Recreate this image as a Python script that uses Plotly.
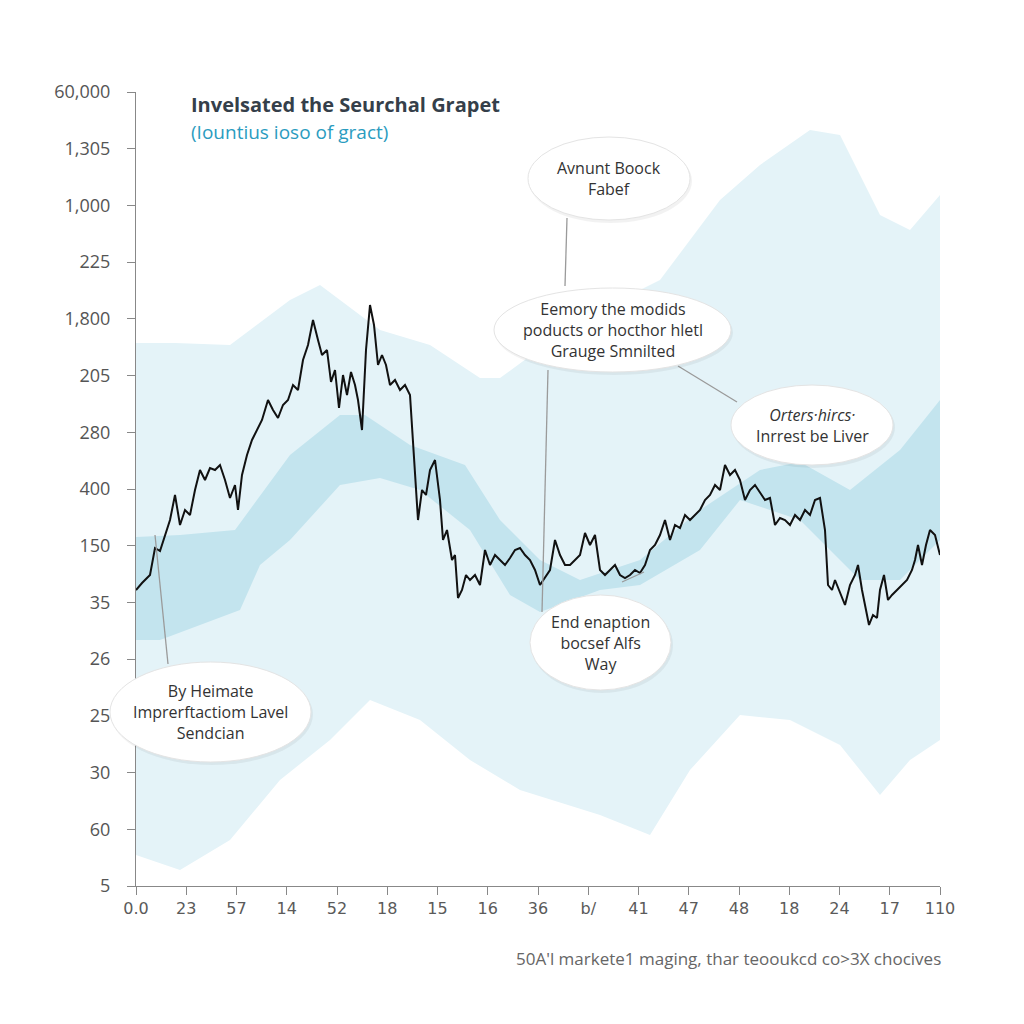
import plotly.graph_objects as go

# ---- data (x in "steps", y in "value units") ----
line_x = [0,6,14,19,24,29,34,39,44,49,
          54,59,64,69,74,79,84,89,94,99,
          102,106,111,116,122,126,132,137,142,147,
          152,157,162,167,172,177,182,186,191,195,
          199,203,207,211,215,219,222,226,230,234,
          238,242,246,250,254,259,264,269,274,279,
          282,286,290,294,299,304,307,311,316,319,
          322,326,330,334,339,344,349,354,359,364,
          369,374,379,384,389,394,399,404,409,414,
          419,424,429,434,439,444,449,454,459,464,
          469,474,479,484,489,494,499,504,509,514,
          519,524,529,534,539,544,549,554,559,564,
          569,574,579,584,589,594,599,604,609,614,
          619,624,629,634,639,644,649,654,659,664,
          669,674,679,684,689,692,696,699,704,709,
          714,719,722,726,730,733,737,741,744,748,
          752,756,761,766,771,776,779,782,786,790,
          794,799,804]
line_y = [296,303,311,338,335,351,366,391,361,376,
          371,396,416,406,418,416,421,406,388,401,
          376,411,431,446,458,466,486,476,468,481,
          486,501,496,526,541,566,546,531,536,504,
          516,478,511,491,514,501,486,456,536,581,
          561,521,531,521,501,506,496,501,491,416,
          366,396,391,416,426,386,346,356,326,331,
          288,296,311,306,311,301,336,321,331,326,
          321,328,336,338,331,326,316,301,308,316,
          346,331,321,321,326,331,353,341,351,316,
          311,316,321,311,308,311,316,313,321,336,
          341,351,366,346,361,358,371,366,371,376,
          386,391,401,396,421,411,416,406,386,396,
          401,393,386,388,361,368,366,361,371,366,
          376,371,386,388,356,301,296,306,294,281,
          301,311,321,296,276,261,271,268,296,311,
          286,291,296,301,306,316,326,341,321,341,
          356,351,331]

outer_up_x = [0,39,94,154,184,244,294,344,364,409,464,524,584,624,674,704,744,774,804]
outer_up_y = [543,543,541,586,601,556,541,508,508,541,576,606,686,721,756,751,671,656,691]
outer_lo_x = [0,44,94,144,194,234,284,334,384,464,514,554,604,654,704,744,774,804]
outer_lo_y = [31,16,46,106,146,186,166,126,96,71,51,116,171,166,141,91,126,146]

mid_up_x = [0,44,99,154,204,229,274,329,364,404,444,504,564,624,664,714,764,804]
mid_up_y = [349,351,356,431,471,471,441,421,366,326,306,326,376,416,424,396,436,486]
mid_lo_x = [0,24,104,124,154,204,244,284,334,374,404,464,504,564,604,664,704,724,764,804]
mid_lo_y = [246,246,276,321,346,401,408,396,356,291,274,296,301,336,386,366,326,306,306,346]

y_ticktext = ["5","60","30","25","26","35","150","400","280","205","1,800","225","1,000","1,305","60,000"]
x_ticktext = ["0.0","23","57","14","52","18","15","16","36","b/","41","47","48","18","24","17","110"]

X_MAX = 804
Y_MAX = 794

fig = go.Figure()

fig.add_trace(go.Scatter(
    x=outer_up_x + outer_lo_x[::-1], y=outer_up_y + outer_lo_y[::-1],
    fill="toself", fillcolor="#e4f3f8", line=dict(width=0), mode="lines",
    hoverinfo="skip", showlegend=False))
fig.add_trace(go.Scatter(
    x=mid_up_x + mid_lo_x[::-1], y=mid_up_y + mid_lo_y[::-1],
    fill="toself", fillcolor="#c3e4ee", line=dict(width=0), mode="lines",
    hoverinfo="skip", showlegend=False))
fig.add_trace(go.Scatter(
    x=line_x, y=line_y, mode="lines",
    line=dict(color="#111111", width=2), showlegend=False))

# ---- layout helpers (pixel -> paper) ----
L, T, B = 136, 92, 886
W = 804
H = B - T
def px(xp):
    return (xp - L) / W
def py(yp):
    return (B - yp) / H

shapes = []
annotations = []

# connector lines
for (x0, y0, x1, y1) in [(567, 218, 565, 286), (548, 370, 542, 612),
                         (678, 366, 737, 402), (155, 535, 168, 664),
                         (622, 582, 644, 572)]:
    shapes.append(dict(type="line", xref="paper", yref="paper",
                       x0=px(x0), y0=py(y0), x1=px(x1), y1=py(y1),
                       line=dict(color="#9a9a9a", width=1.3), layer="above"))

bubbles = [
    ((528, 137, 690, 220), "Avnunt Boock<br>Fabef"),
    ((494, 288, 731, 372), "Eemory the modids<br>poducts or hocthor hletl<br>Grauge Smnilted"),
    ((731, 385, 893, 465), "<i>Orters·hircs·</i><br>Inrrest be Liver"),
    ((530, 595, 671, 690), "End enaption<br>bocsef Alfs<br>Way"),
    ((110, 662, 311, 762), "By Heimate<br>Imprerftactiom Lavel<br>Sendcian"),
]
for (x0, y0, x1, y1), txt in bubbles:
    shapes.append(dict(type="circle", xref="paper", yref="paper",
                       x0=px(x0 + 1), y0=py(y1 + 3), x1=px(x1 + 2), y1=py(y0 + 2),
                       fillcolor="rgba(0,0,0,0.05)", line=dict(width=0), layer="above"))
    shapes.append(dict(type="circle", xref="paper", yref="paper",
                       x0=px(x0), y0=py(y1), x1=px(x1), y1=py(y0),
                       fillcolor="#ffffff", line=dict(color="#e4e4e4", width=1), layer="above"))
    annotations.append(dict(xref="paper", yref="paper",
                            x=px((x0 + x1) / 2), y=py((y0 + y1) / 2),
                            xanchor="center", yanchor="middle",
                            text=txt, showarrow=False, align="center",
                            font=dict(family="Open Sans", size=16, color="#333333")))

# titles and footer
annotations.append(dict(xref="paper", yref="paper", x=px(189), y=py(104),
                        xanchor="left", yanchor="middle", showarrow=False,
                        text="<b>Invelsated the Seurchal Grapet</b>",
                        font=dict(family="Open Sans", size=20, color="#353f4a")))
annotations.append(dict(xref="paper", yref="paper", x=px(189), y=py(132),
                        xanchor="left", yanchor="middle", showarrow=False,
                        text="(Iountius ioso of gract)",
                        font=dict(family="Open Sans", size=19, color="#2b9cc0")))
annotations.append(dict(xref="paper", yref="paper", x=px(943), y=py(958),
                        xanchor="right", yanchor="middle", showarrow=False,
                        text="50A'l markete1 maging, thar teooukcd co>3X chocives",
                        font=dict(family="Open Sans", size=17, color="#666666")))

fig.update_layout(
    width=1024, height=1024,
    margin=dict(l=L, r=1024 - L - W, t=T, b=1024 - B),
    paper_bgcolor="#ffffff", plot_bgcolor="#ffffff",
    shapes=shapes, annotations=annotations,
    xaxis=dict(range=[0, X_MAX], showgrid=False, zeroline=False,
               tickvals=[i * X_MAX / 16 for i in range(17)], ticktext=x_ticktext,
               ticks="outside", ticklen=8, tickcolor="#888888",
               showline=True, linecolor="#888888", linewidth=1,
               tickfont=dict(family="DejaVu Sans", size=16, color="#5a5a5a")),
    yaxis=dict(range=[0, Y_MAX], showgrid=False, zeroline=False,
               tickvals=[i * Y_MAX / 14 for i in range(15)], ticktext=y_ticktext,
               ticks="outside", ticklen=8, tickcolor="#888888", ticklabelstandoff=13,
               showline=True, linecolor="#888888", linewidth=1,
               tickfont=dict(family="Open Sans", size=18, color="#555555")),
)

fig.write_html("out.html")
